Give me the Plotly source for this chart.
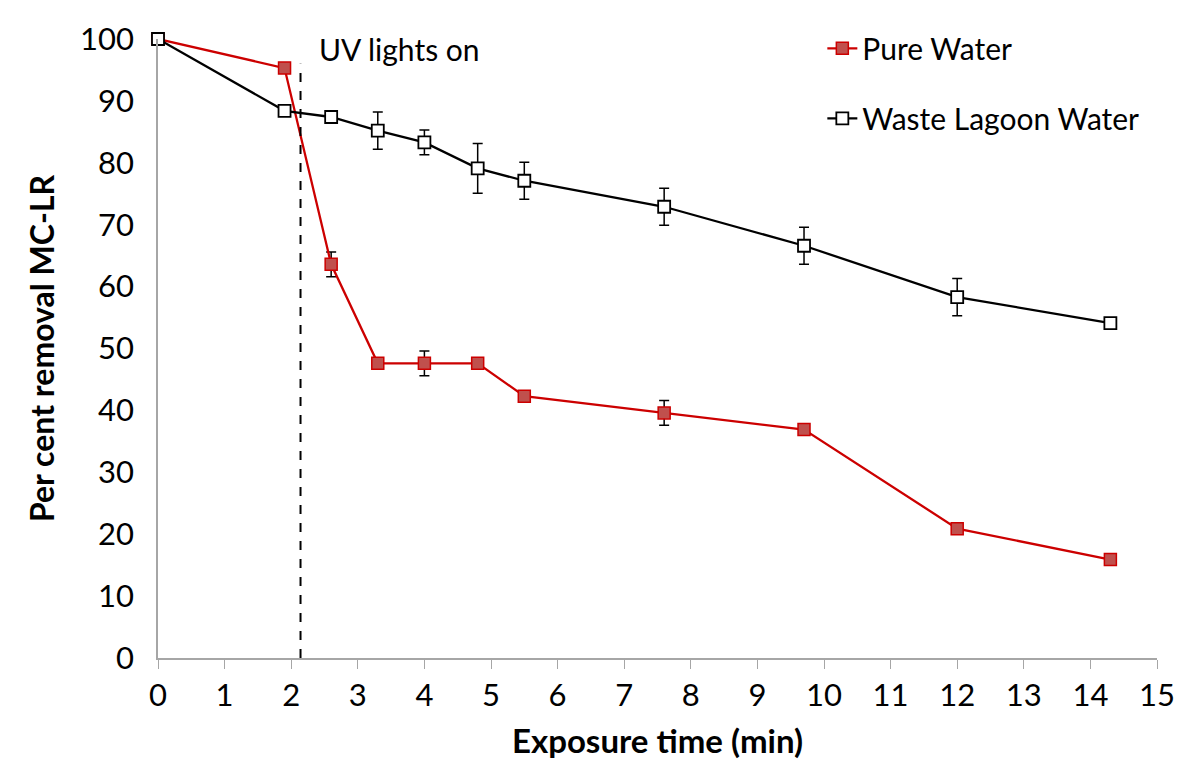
import plotly.graph_objects as go

time_pure = [0, 1.9, 2.6, 3.3, 4.0, 4.8, 5.5, 7.6, 9.7, 12.0, 14.3]
pure_water = [100, 95.3, 63.6, 47.6, 47.6, 47.6, 42.3, 39.6, 36.9, 20.9, 15.9]
pure_err = [0, 0, 2, 0, 2, 0, 0, 2, 0.9, 0, 0]

time_waste = [0, 1.9, 2.6, 3.3, 4.0, 4.8, 5.5, 7.6, 9.7, 12.0, 14.3]
waste_water = [100, 88.4, 87.4, 85.2, 83.3, 79.1, 77.1, 72.9, 66.6, 58.3, 54.1]
waste_err = [0, 0, 0, 3, 2, 4, 3, 3, 3, 3, 0.3]

uv_on_time = 2.14
uv_line_top = 96

FONT = "Lato"

fig = go.Figure()
fig.add_trace(go.Scatter(
    x=time_pure, y=pure_water, name="Pure Water", mode="lines+markers",
    line=dict(color="#cc0000", width=2.3),
    marker=dict(symbol="square", size=12, color="#c0504d", line=dict(color="#cc0000", width=1.5)),
    error_y=dict(type="data", array=pure_err, visible=True, color="black", thickness=1.5, width=5),
    cliponaxis=False, legendgroup="a",
))
fig.add_trace(go.Scatter(
    x=time_waste, y=waste_water, name="Waste Lagoon Water", mode="lines+markers",
    line=dict(color="black", width=2.3),
    marker=dict(symbol="square", size=12, color="white", line=dict(color="black", width=1.8)),
    error_y=dict(type="data", array=waste_err, visible=True, color="black", thickness=1.5, width=5),
    cliponaxis=False, legendgroup="b",
))

fig.add_shape(type="line", x0=uv_on_time, x1=uv_on_time, y0=0, y1=uv_line_top,
              xref="x", yref="y", line=dict(color="black", width=2, dash="dash"))
fig.add_annotation(x=uv_on_time, y=100, xref="x", yref="y", text="UV lights on",
                   showarrow=False, xanchor="left", yanchor="middle", xshift=16, yshift=-10,
                   font=dict(family=FONT, size=30, color="black"))

fig.update_layout(
    width=1187, height=783,
    margin=dict(l=158, r=25, t=39, b=125),
    plot_bgcolor="white", paper_bgcolor="white",
    font=dict(family=FONT, size=30, color="black"),
    showlegend=True,
    legend=dict(x=0.665, y=1.027, xanchor="left", yanchor="top", bgcolor="rgba(0,0,0,0)",
                font=dict(family=FONT, size=30, color="black"), tracegroupgap=28,
                itemwidth=30),
    xaxis=dict(range=[0, 15], dtick=1, tick0=0, showgrid=False, zeroline=False,
               showline=True, linecolor="#a6a6a6", linewidth=1.5,
               ticks="outside", tickcolor="#a6a6a6", ticklen=9, tickwidth=1,
               tickfont=dict(family=FONT, size=31, color="black"),
               title=dict(text="<b>Exposure time (min)</b>", font=dict(family=FONT, size=33), standoff=18)),
    yaxis=dict(range=[0, 100], dtick=10, tick0=0, showgrid=False, zeroline=False,
               showline=True, linecolor="#a6a6a6", linewidth=1.5, ticks="",
               ticklabelstandoff=16,
               tickfont=dict(family=FONT, size=31, color="black"),
               title=dict(text="<b>Per cent removal MC-LR</b>", font=dict(family=FONT, size=32), standoff=16)),
)

fig.write_html("out.html")
